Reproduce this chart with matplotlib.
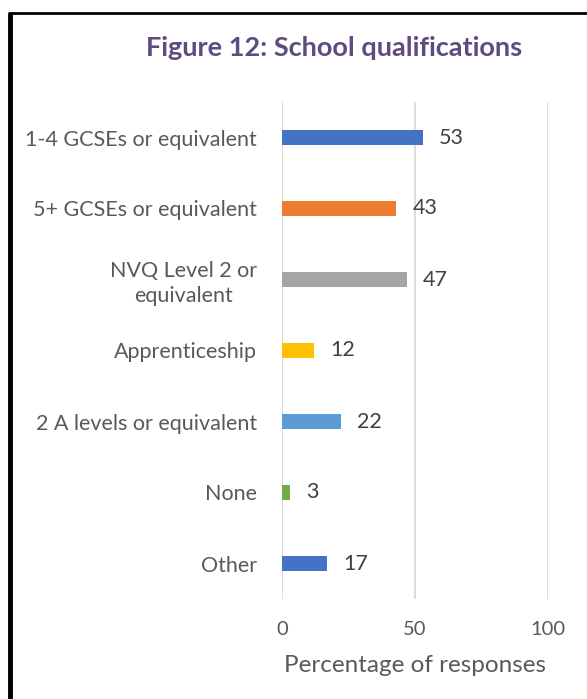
import matplotlib.pyplot as plt
from matplotlib.lines import Line2D

plt.rcParams['font.family'] = ['Lato', 'DejaVu Sans']

# Data
categories = ['1-4 GCSEs or equivalent', '5+ GCSEs or equivalent', 'NVQ Level 2 or\nequivalent',
              'Apprenticeship', '2 A levels or equivalent', 'None', 'Other']
values = [53, 43, 47, 12, 22, 3, 17]
colors = ['#4472C4', '#ED7D31', '#A5A5A5', '#FFC000', '#5B9BD5', '#70AD47', '#4472C4']
xticks = [0, 50, 100]

fig = plt.figure(figsize=(5.87, 6.99), dpi=100)
ax = fig.add_axes([282 / 587, 1 - 599 / 699, 266 / 587, 497 / 699])

ypos = list(range(len(categories)))[::-1]
ax.barh(ypos, values, height=0.21, color=colors, zorder=3)
for y, v in zip(ypos, values):
    ax.annotate(str(v), (v, y), xytext=(16, 0), textcoords='offset pixels',
                va='center', ha='left', fontsize=15.5, color='#404040')

ax.set_xlim(0, 100)
ax.set_ylim(-0.5, len(categories) - 0.5)
ax.set_xticks(xticks)
ax.set_yticks(ypos)
ax.set_yticklabels(categories, fontsize=15.5, color='#595959', multialignment='center',
                   linespacing=1.3)
ax.tick_params(axis='y', length=0, pad=18)
ax.tick_params(axis='x', length=0, pad=16, labelsize=14.5, labelcolor='#595959')
ax.grid(axis='x', color='#D9D9D9', linewidth=1.3, zorder=0)
for s in ax.spines.values():
    s.set_visible(False)
ax.set_xlabel('Percentage of responses', fontsize=17.5, color='#595959', labelpad=12)

fig.text(334 / 587, 1 - 48 / 699, 'Figure 12: School qualifications', ha='center', va='center',
         fontsize=19.5, fontweight='bold', color='#5F4B80')

# frame around the chart
fig.add_artist(Line2D([10 / 587, 10 / 587], [0, 1 - 13 / 699], color='black', linewidth=3.5,
                      transform=fig.transFigure, solid_capstyle='butt'))
fig.add_artist(Line2D([8 / 587, 1], [1 - 13 / 699, 1 - 13 / 699], color='black', linewidth=2,
                      transform=fig.transFigure, solid_capstyle='butt'))

fig.savefig('out.png', dpi=100)
